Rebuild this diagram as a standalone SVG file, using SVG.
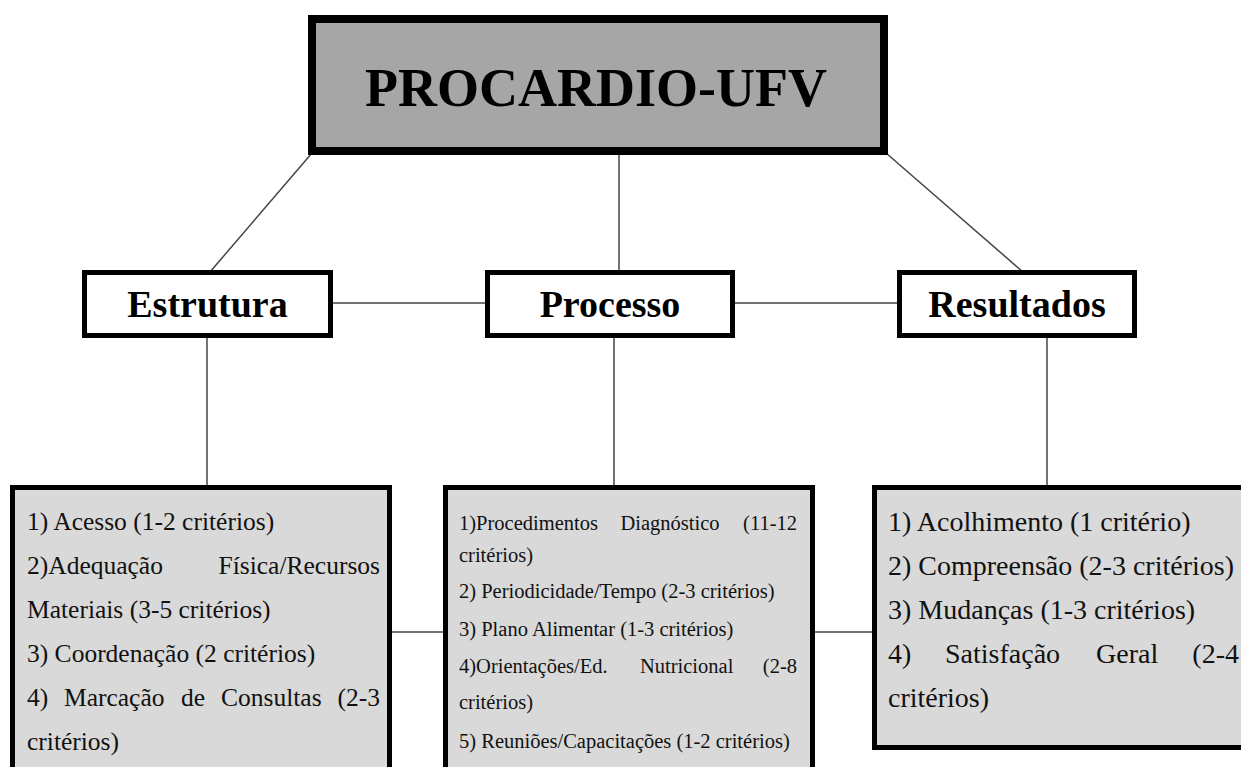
<svg xmlns="http://www.w3.org/2000/svg" width="1241" height="767" viewBox="0 0 1241 767">
<style>
.conn{stroke:#444;stroke-width:1.5;fill:none}
.top{fill:#a6a6a6;stroke:#000;stroke-width:8}
.hdr{fill:#fff;stroke:#000;stroke-width:5}
.det{fill:#d9d9d9;stroke:#000;stroke-width:5}
.title{font-family:"Liberation Serif",serif;font-weight:bold;fill:#000}
.l{font-family:"Liberation Serif",serif;font-size:25.5px;fill:#111}
.m{font-family:"Liberation Serif",serif;font-size:20.5px;fill:#111}
.r{font-family:"Liberation Serif",serif;font-size:28px;fill:#111}
</style>
<rect width="1241" height="767" fill="#fff"/>
<g id="connectors">
<line class="conn" x1="312" y1="153" x2="210" y2="272"/>
<line class="conn" x1="619" y1="155" x2="619" y2="272"/>
<line class="conn" x1="886" y1="153" x2="1023" y2="272"/>
<line class="conn" x1="333" y1="303" x2="485" y2="303"/>
<line class="conn" x1="735" y1="303" x2="897" y2="303"/>
<line class="conn" x1="207" y1="338" x2="207" y2="485"/>
<line class="conn" x1="614" y1="338" x2="614" y2="485"/>
<line class="conn" x1="1047" y1="338" x2="1047" y2="485"/>
<line class="conn" x1="392" y1="632" x2="443" y2="632"/>
<line class="conn" x1="815" y1="632" x2="872" y2="632"/>
</g>
<g id="procardio">
<rect class="top" x="312" y="19" width="572" height="132"/>
<text class="title" x="596" y="106" font-size="54" text-anchor="middle">PROCARDIO-UFV</text>
</g>
<g id="estrutura">
<rect class="hdr" x="84.5" y="272.5" width="246" height="63"/>
<text class="title" x="207.5" y="317" font-size="38" text-anchor="middle">Estrutura</text>
</g>
<g id="processo">
<rect class="hdr" x="487.5" y="272.5" width="245" height="63"/>
<text class="title" x="610" y="317" font-size="38" text-anchor="middle">Processo</text>
</g>
<g id="resultados">
<rect class="hdr" x="899.5" y="272.5" width="235" height="63"/>
<text class="title" x="1017" y="317" font-size="38" text-anchor="middle">Resultados</text>
</g>
<g id="estrutura-criterios">
<rect class="det" x="12.5" y="487.5" width="377" height="300"/>
<text class="l" x="27" y="530">1) Acesso (1-2 critérios)</text>
<text class="l" x="27" y="574">2)Adequação</text>
<text class="l" x="380" y="574" text-anchor="end">Física/Recursos</text>
<text class="l" x="27" y="618">Materiais (3-5 critérios)</text>
<text class="l" x="27" y="662">3) Coordenação (2 critérios)</text>
<text class="l" y="706"><tspan x="27">4)</tspan><tspan x="64">Marcação</tspan><tspan x="181">de</tspan><tspan x="221">Consultas</tspan><tspan x="380" text-anchor="end">(2-3</tspan></text>
<text class="l" x="27" y="750">critérios)</text>
</g>
<g id="processo-criterios">
<rect class="det" x="445.5" y="487.5" width="367" height="300"/>
<text class="m" y="530"><tspan x="459">1)Procedimentos</tspan><tspan x="620.5">Diagnóstico</tspan><tspan x="797" text-anchor="end">(11-12</tspan></text>
<text class="m" x="459" y="562">critérios)</text>
<text class="m" x="459" y="598">2) Periodicidade/Tempo (2-3 critérios)</text>
<text class="m" x="459" y="636">3) Plano Alimentar (1-3 critérios)</text>
<text class="m" y="673"><tspan x="459">4)Orientações/Ed.</tspan><tspan x="640">Nutricional</tspan><tspan x="797" text-anchor="end">(2-8</tspan></text>
<text class="m" x="459" y="709">critérios)</text>
<text class="m" x="459" y="748">5) Reuniões/Capacitações (1-2 critérios)</text>
</g>
<g id="resultados-criterios">
<rect class="det" x="874.5" y="487.5" width="380" height="260"/>
<text class="r" x="888" y="531">1) Acolhimento (1 critério)</text>
<text class="r" x="888" y="575">2) Compreensão (2-3 critérios)</text>
<text class="r" x="888" y="619">3) Mudanças (1-3 critérios)</text>
<text class="r" y="663"><tspan x="888">4)</tspan><tspan x="945">Satisfação</tspan><tspan x="1096">Geral</tspan><tspan x="1239" text-anchor="end">(2-4</tspan></text>
<text class="r" x="888" y="707">critérios)</text>
</g>
</svg>
